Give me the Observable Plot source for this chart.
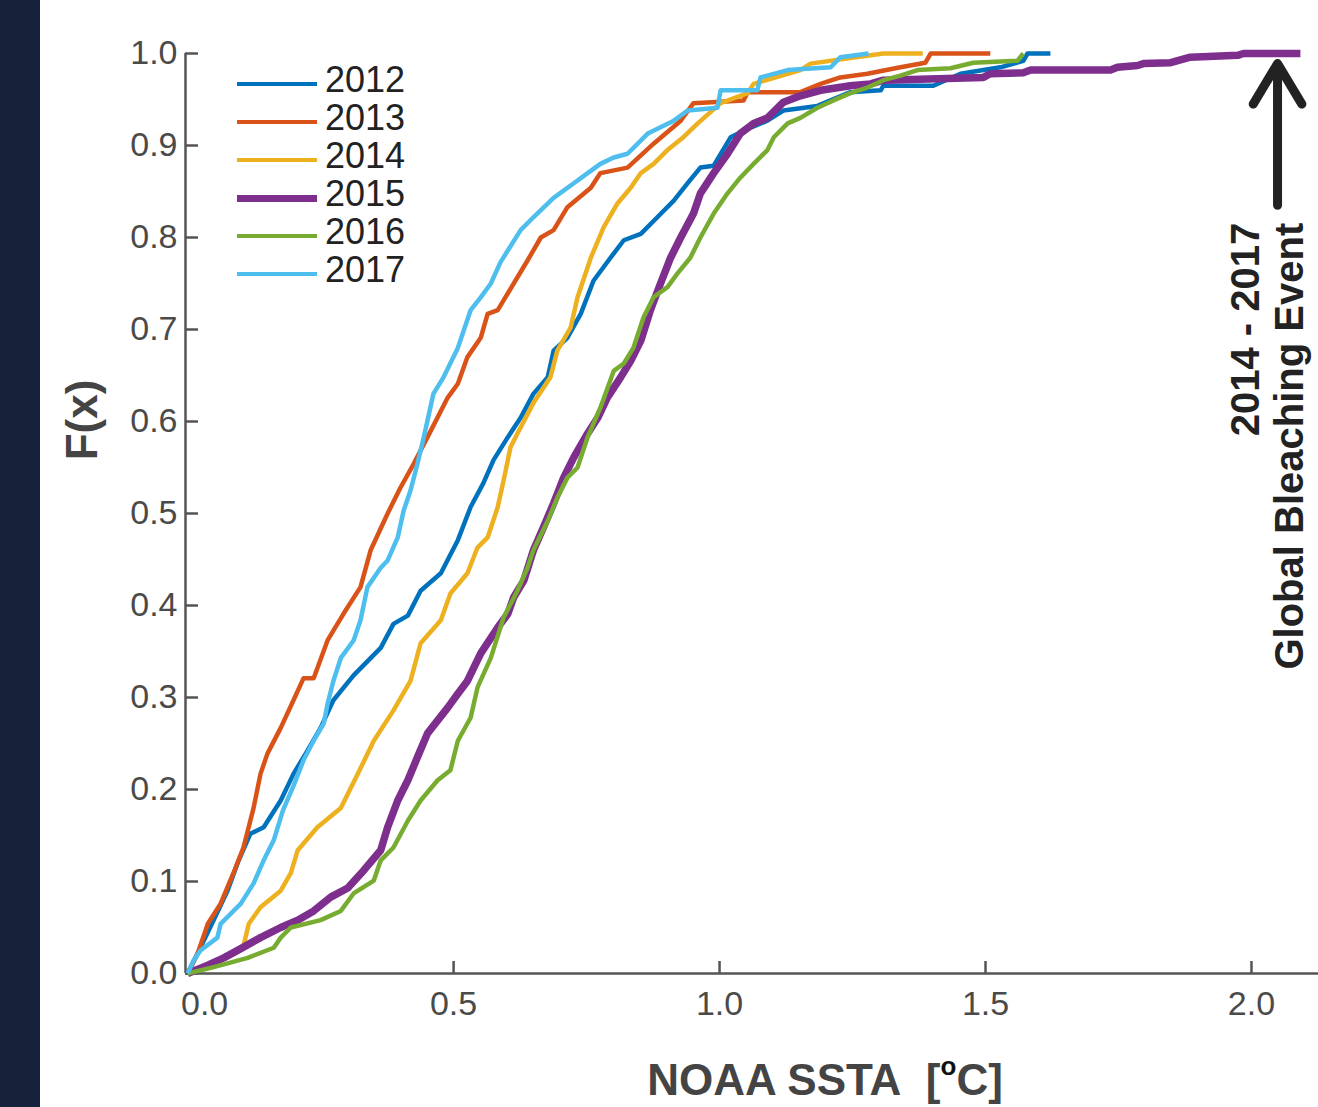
<!DOCTYPE html>
<html><head><meta charset="utf-8">
<script src="https://cdn.jsdelivr.net/npm/d3@7"></script>
<script src="https://cdn.jsdelivr.net/npm/@observablehq/plot@0.6"></script>
<style>
html,body{margin:0;padding:0;background:#fff;}
#wrap{position:relative;width:1318px;height:1107px;overflow:hidden;background:#fff;font-family:"Liberation Sans",Arial,Helvetica,sans-serif;}
#chart{position:absolute;left:0;top:0;}
#strip{position:absolute;left:0;top:0;width:40px;height:1107px;background:#15223a;}
#legend{position:absolute;left:237px;top:65px;}
.row{display:flex;align-items:center;height:38px;}
.sw{width:80px;}
.lab{margin-left:8px;font-size:36px;line-height:38px;color:#222;position:relative;top:-4px;}
#xtitle{position:absolute;left:825px;top:1080px;transform:translate(-50%,-50%);font-weight:bold;font-size:44px;color:#444;white-space:nowrap;}
#xtitle sup{font-size:26px;color:#111;position:relative;top:-4px;}
#ytitle{position:absolute;left:82px;top:420px;transform:translate(-50%,-50%) rotate(-90deg);font-weight:bold;font-size:44px;color:#444;white-space:nowrap;}
</style></head><body>
<div id="wrap"><div id="chart"></div><div id="strip"></div><div id="legend"></div>
<div id="xtitle">NOAA SSTA&nbsp; [<sup>o</sup>C]</div>
<div id="ytitle">F(x)</div>
</div>
<script>
const years = ["2012","2013","2014","2015","2016","2017"];
const colors = ["#0072BD","#D95319","#EDB120","#7E2F8E","#77AC30","#4DBEEE"];
const xTicks = [0, 0.5, 1.0, 1.5, 2.0];
const yTicks = [0, 0.1, 0.2, 0.3, 0.4, 0.5, 0.6, 0.7, 0.8, 0.9, 1.0];

const x2012 = [0,0.024,0.049,0.075,0.096,0.118,0.143,0.175,0.199,0.222,0.250,0.274,0.312,0.363,0.387,0.414,0.438,0.476,0.508,0.532,0.556,0.575,0.602,0.626,0.650,0.677,0.688,0.714,0.739,0.763,0.795,0.820,0.852,0.883,0.914,0.940,0.964,0.989,1.021,1.045,1.090,1.120,1.184,1.246,1.303,1.308,1.402,1.453,1.528,1.571,1.579,1.622];
const f2012 = [0,0.028,0.058,0.090,0.123,0.152,0.159,0.188,0.217,0.239,0.267,0.297,0.324,0.354,0.380,0.389,0.416,0.435,0.471,0.507,0.533,0.558,0.583,0.604,0.630,0.648,0.677,0.691,0.717,0.753,0.778,0.797,0.804,0.822,0.840,0.859,0.876,0.878,0.909,0.916,0.927,0.938,0.943,0.958,0.960,0.965,0.965,0.978,0.985,0.992,1.0,1.0];

const x2013 = [0,0.019,0.038,0.062,0.086,0.105,0.124,0.137,0.150,0.175,0.199,0.218,0.237,0.263,0.293,0.325,0.344,0.376,0.400,0.425,0.451,0.489,0.508,0.526,0.551,0.564,0.583,0.613,0.639,0.664,0.688,0.714,0.758,0.776,0.827,0.876,0.927,0.951,1.045,1.053,1.152,1.190,1.227,1.278,1.340,1.387,1.397,1.509];
const f2013 = [0,0.022,0.054,0.076,0.109,0.137,0.180,0.217,0.239,0.267,0.297,0.321,0.321,0.362,0.391,0.420,0.460,0.500,0.528,0.554,0.583,0.626,0.641,0.670,0.691,0.717,0.721,0.750,0.775,0.800,0.808,0.833,0.854,0.870,0.876,0.902,0.927,0.946,0.949,0.958,0.958,0.967,0.974,0.978,0.985,0.990,1.0,1.0];

const x2014 = [0.105,0.115,0.137,0.175,0.194,0.207,0.244,0.288,0.320,0.350,0.387,0.419,0.438,0.476,0.494,0.526,0.545,0.564,0.583,0.594,0.607,0.620,0.650,0.682,0.695,0.720,0.733,0.758,0.782,0.808,0.833,0.852,0.876,0.902,0.932,0.959,1.002,1.053,1.064,1.128,1.152,1.171,1.246,1.308,1.382];
const f2014 = [0.030,0.054,0.072,0.090,0.109,0.134,0.159,0.180,0.217,0.253,0.286,0.318,0.359,0.384,0.413,0.435,0.463,0.474,0.507,0.536,0.572,0.587,0.620,0.648,0.677,0.702,0.735,0.778,0.811,0.837,0.854,0.870,0.880,0.895,0.909,0.924,0.946,0.957,0.967,0.978,0.982,0.989,0.995,1.0,1.0];

const x2015 = [0,0.038,0.068,0.100,0.137,0.175,0.207,0.237,0.269,0.301,0.331,0.363,0.376,0.395,0.414,0.432,0.451,0.489,0.508,0.526,0.551,0.583,0.602,0.613,0.632,0.650,0.669,0.688,0.707,0.726,0.752,0.771,0.789,0.814,0.833,0.852,0.870,0.889,0.908,0.927,0.951,0.964,0.989,1.015,1.039,1.064,1.090,1.120,1.152,1.190,1.246,1.284,1.308,1.496,1.509,1.571,1.585,1.735,1.748,1.786,1.797,1.848,1.885,1.974,1.985,2.092];
const f2015 = [0,0.009,0.017,0.027,0.039,0.050,0.058,0.068,0.083,0.093,0.112,0.134,0.159,0.188,0.210,0.235,0.261,0.289,0.304,0.318,0.348,0.376,0.391,0.409,0.427,0.460,0.485,0.511,0.539,0.561,0.587,0.604,0.626,0.648,0.666,0.688,0.721,0.750,0.778,0.800,0.826,0.848,0.870,0.891,0.913,0.924,0.930,0.947,0.954,0.960,0.965,0.967,0.971,0.974,0.978,0.979,0.982,0.982,0.985,0.987,0.989,0.990,0.996,0.998,1.0,1.0];

const x2016 = [0,0.049,0.113,0.162,0.175,0.194,0.250,0.288,0.312,0.350,0.363,0.387,0.414,0.438,0.470,0.494,0.508,0.532,0.545,0.570,0.594,0.620,0.639,0.650,0.677,0.695,0.714,0.733,0.752,0.776,0.801,0.820,0.838,0.857,0.876,0.902,0.921,0.945,0.964,0.989,1.015,1.039,1.064,1.090,1.102,1.128,1.152,1.184,1.214,1.246,1.278,1.308,1.340,1.372,1.434,1.477,1.560,1.571];
const f2016 = [0,0.007,0.017,0.028,0.039,0.050,0.058,0.068,0.087,0.101,0.123,0.137,0.166,0.188,0.210,0.221,0.253,0.278,0.311,0.343,0.387,0.416,0.441,0.460,0.492,0.517,0.539,0.550,0.583,0.615,0.655,0.663,0.680,0.713,0.735,0.746,0.761,0.778,0.800,0.826,0.848,0.865,0.880,0.895,0.909,0.924,0.930,0.941,0.949,0.957,0.963,0.971,0.976,0.982,0.984,0.990,0.992,1.0];

const x2017 = [0,0.011,0.024,0.056,0.062,0.100,0.124,0.143,0.162,0.179,0.199,0.218,0.237,0.256,0.263,0.274,0.288,0.312,0.325,0.338,0.363,0.376,0.395,0.406,0.419,0.432,0.444,0.462,0.481,0.508,0.532,0.551,0.570,0.588,0.626,0.650,0.688,0.726,0.752,0.776,0.801,0.827,0.865,0.914,0.940,0.996,1.002,1.071,1.077,1.128,1.209,1.227,1.280];
const f2017 = [0,0.014,0.025,0.039,0.054,0.076,0.098,0.123,0.145,0.177,0.204,0.232,0.253,0.272,0.293,0.318,0.343,0.362,0.384,0.420,0.441,0.449,0.474,0.503,0.525,0.554,0.583,0.630,0.648,0.680,0.721,0.735,0.750,0.773,0.808,0.822,0.843,0.859,0.870,0.880,0.887,0.891,0.913,0.927,0.938,0.941,0.960,0.960,0.974,0.982,0.985,0.996,1.0];

const annotationLines = ["2014 - 2017", "Global Bleaching Event"];
const annotationX = [1.99, 2.073];
const annotationTopF = 0.816;
const arrowX = 2.049, arrowFromF = 0.835, arrowToF = 0.989;

const xs = [x2012,x2013,x2014,x2015,x2016,x2017];
const fs = [f2012,f2013,f2014,f2015,f2016,f2017];
const widths = years.map(y => y === "2015" ? 7.5 : 4.5);
const xDomain = [-0.004, 2.126];

const series = years.map((yr, i) => {
  const n = Math.min(xs[i].length, fs[i].length);
  return d3.range(n).map(j => ({year: yr, x: xs[i][j], F: fs[i][j]}));
});

const fmt = d3.format(".1f");
const axisStyle = {stroke: "#555", strokeWidth: 2.5, fontSize: 34, label: null, tickFormat: fmt};

const chart = Plot.plot({
  width: 1318, height: 1107,
  marginLeft: 185, marginRight: 0, marginTop: 53, marginBottom: 134,
  style: {background: "transparent", fontFamily: '"Liberation Sans", Arial, Helvetica, sans-serif', color: "#4a4a4a", overflow: "visible"},
  x: {domain: xDomain},
  y: {domain: [0, 1]},
  marks: [
    Plot.axisX({...axisStyle, ticks: xTicks.slice(1), tickSize: -12, tickPadding: 29}),
    Plot.axisX({...axisStyle, ticks: xTicks.slice(0,1), tickSize: 0, tickPadding: 17, dx: 17}),
    Plot.axisY({...axisStyle, ticks: yTicks, tickSize: -13, tickPadding: 21}),
    Plot.ruleY([0], {stroke: "#555", strokeWidth: 2.5}),
    Plot.ruleX([xDomain[0]], {stroke: "#555", strokeWidth: 2.5}),
    ...series.map((s, i) => Plot.line(s, {x: "x", y: "F", stroke: colors[i], strokeWidth: widths[i], strokeLinejoin: "round", strokeLinecap: "butt"})),
    Plot.arrow([0], {x1: () => arrowX, x2: () => arrowX, y1: () => arrowFromF, y2: () => arrowToF, stroke: "#222", strokeWidth: 9, headLength: 48, headAngle: 62, strokeLinejoin: "miter"}),
    Plot.text(annotationLines, {x: (d, i) => annotationX[i], y: () => annotationTopF, text: d => d, rotate: -90, textAnchor: "end", fontSize: 40, fontWeight: "bold", fill: "#222"})
  ]
});
document.getElementById("chart").appendChild(chart);

const legend = document.getElementById("legend");
years.forEach((yr, i) => {
  const row = document.createElement("div");
  row.className = "row";
  const sw = document.createElement("div");
  sw.className = "sw";
  sw.style.height = (yr === "2015" ? 7 : 4.5) + "px";
  sw.style.background = colors[i];
  const lab = document.createElement("span");
  lab.className = "lab";
  lab.textContent = yr;
  row.appendChild(sw); row.appendChild(lab);
  legend.appendChild(row);
});
</script>
</body></html>
